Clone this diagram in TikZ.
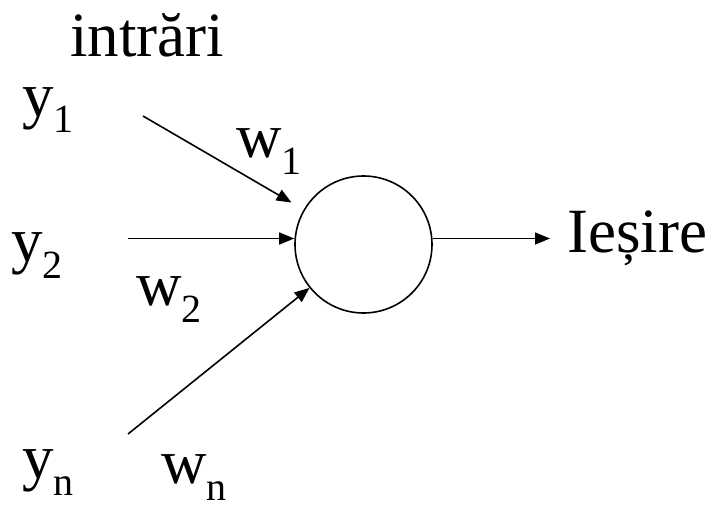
\documentclass[tikz,border=0pt]{standalone}
\usepackage{fontspec}
\setmainfont{Liberation Serif}
\usetikzlibrary{arrows.meta}
\newcommand{\lbl}[2]{#1\raisebox{-17pt}{\fontsize{40}{42}\selectfont #2}}
\tikzset{
  lab/.style={anchor=base west, inner sep=0pt, font=\fontsize{63}{70}\selectfont},
  conn/.style={line width=1.6pt, -{Triangle[length=15pt,width=12pt]}},
}
\begin{document}
\begin{tikzpicture}[x=1pt,y=1pt]
\useasboundingbox (0,0) rectangle (712,-511);
\node[circle, draw, line width=1.6pt, minimum size=137pt, inner sep=0pt] (neuron) at (363.5,-244.5) {};
\node[lab] (intr) at (70,-57) {intrări};
\node[lab] (y1) at (22,-116) {\lbl{y}{1}};
\node[lab] (y2) at (11,-261) {\lbl{y}{2}};
\node[lab] (yn) at (22,-478) {\lbl{y}{n}};
\node[lab] (w1) at (236,-157) {\lbl{w}{1}};
\node[lab] (w2) at (136,-305) {\lbl{w}{2}};
\node[lab] (wn) at (161,-483) {\lbl{w}{n}};
\node[lab] (out) at (567,-252) {Ieșire};
\coordinate (a1) at (143,-116);
\coordinate (a2) at (128,-238.5);
\coordinate (an) at (128,-434);
\coordinate (o) at (550,-238.5);
\draw[conn, shorten >=14pt] (a1) -- (neuron);
\draw[conn] (a2) -- (a2 -| neuron.west);
\draw[conn] (an) -- (neuron);
\draw[conn] (neuron.east |- o) -- (o);
\end{tikzpicture}
\end{document}
